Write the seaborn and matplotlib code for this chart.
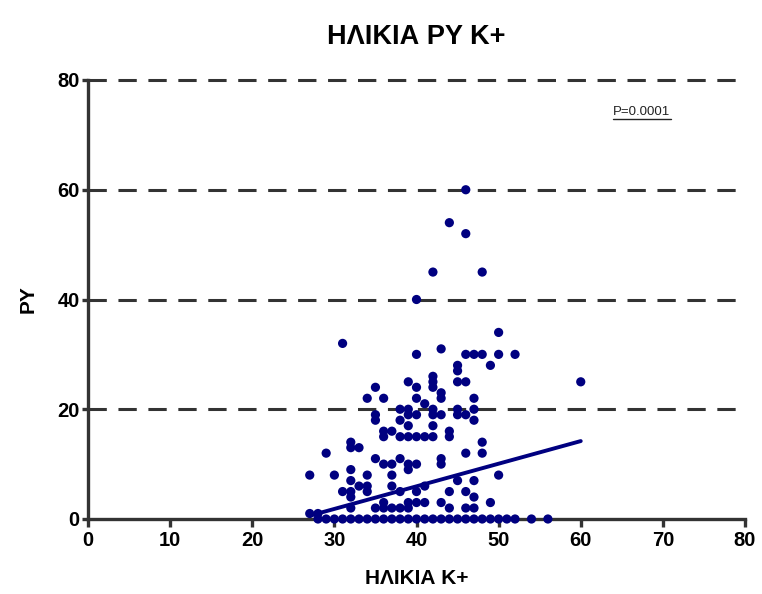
import matplotlib
matplotlib.use("Agg")
import matplotlib.pyplot as plt
import seaborn as sns
import pandas as pd

# Age (K+) and pack-years (PY) per subject
age = [46, 44, 46, 42, 48, 40, 50, 31, 43,
       40, 46, 47, 48, 50, 52,
       45, 49, 45, 45, 46, 39, 42, 42, 42, 40, 35, 60,
       43, 43, 34, 36, 40, 47, 41,
       38, 39, 42, 45, 47, 38, 39, 40, 42, 43, 45, 46, 47, 35, 35, 39, 42,
       36, 36, 37, 38, 39, 40, 41, 42, 44, 44,
       32, 32, 33, 29, 48, 48, 46,
       35, 36, 37, 38, 39, 39, 40, 43, 43, 32,
       37, 27, 30, 34, 50, 32, 33, 34, 37, 45, 47,
       31, 32, 32, 34, 40, 44, 46, 47, 38, 41,
       36, 39, 40, 41, 43, 49,
       32, 35, 36, 37, 38, 39, 44, 46, 47, 27, 28,
       28, 29, 30, 31, 32, 33, 34, 35, 36, 37, 38, 39, 40,
       41, 42, 43, 44, 45, 46, 47, 48, 49, 50, 51, 52, 54, 56]
py = [60, 54, 52, 45, 45, 40, 34, 32, 31,
      30, 30, 30, 30, 30, 30,
      28, 28, 27, 25, 25, 25, 26, 25, 24, 24, 24, 25,
      23, 22, 22, 22, 22, 22, 21,
      20, 20, 20, 20, 20, 18, 19, 19, 19, 19, 19, 19, 18, 19, 18, 17, 17,
      16, 15, 16, 15, 15, 15, 15, 15, 16, 15,
      14, 13, 13, 12, 14, 12, 12,
      11, 10, 10, 11, 10, 9, 10, 11, 10, 9,
      8, 8, 8, 8, 8, 7, 6, 6, 6, 7, 7,
      5, 5, 4, 5, 5, 5, 5, 4, 5, 6,
      3, 3, 3, 3, 3, 3,
      2, 2, 2, 2, 2, 2, 2, 2, 2, 1, 1,
      0, 0, 0, 0, 0, 0, 0, 0, 0, 0, 0, 0, 0,
      0, 0, 0, 0, 0, 0, 0, 0, 0, 0, 0, 0, 0, 0]

# Linear regression line endpoints
fit_age = [27, 60]
fit_py = [0.6, 14.2]

x_ticks = [0, 10, 20, 30, 40, 50, 60, 70, 80]
y_ticks = [0, 20, 40, 60, 80]

df = pd.DataFrame({"age": age, "py": py})
fit = pd.DataFrame({"age": fit_age, "py": fit_py})

sns.set_theme(style="white")
plt.rcParams["font.family"] = ["Liberation Sans", "DejaVu Sans"]

navy = "#000080"
dark = "#333333"

fig = plt.figure(figsize=(7.62, 5.94), dpi=100)
ax = fig.add_axes([88 / 762, 1 - 519 / 594, (745 - 88) / 762, (519 - 80) / 594])

# dashed horizontal grid
for yv in y_ticks[1:]:
    ax.axhline(yv, color=dark, lw=2.2, ls=(0, (6, 3.8)), zorder=1, clip_on=False)

sns.lineplot(data=fit, x="age", y="py", ax=ax, color=navy, lw=2.8,
             zorder=3, clip_on=False)
sns.scatterplot(data=df, x="age", y="py", ax=ax, color=navy, s=44,
                edgecolor="none", linewidth=0, zorder=4, clip_on=False)

ax.set_xlim(0, 80)
ax.set_ylim(0, 80)
ax.set_xticks(x_ticks)
ax.set_yticks(y_ticks)
ax.set_xticklabels([str(v) for v in x_ticks], fontweight="bold", fontsize=14.5)
ax.set_yticklabels([str(v) for v in y_ticks], fontweight="bold", fontsize=14.5)

for side in ["top", "right"]:
    ax.spines[side].set_visible(False)
for side in ["left", "bottom"]:
    ax.spines[side].set_color(dark)
    ax.spines[side].set_linewidth(2.4)
ax.tick_params(axis="y", direction="out", length=4.5, width=2.4,
               color=dark, labelcolor="black", pad=1.5)
ax.tick_params(axis="x", direction="out", length=6, width=2.4,
               color=dark, labelcolor="black", pad=2.5)
ax.xaxis.set_ticks_position("bottom")
ax.yaxis.set_ticks_position("left")

ax.set_xlabel("ΗΛΙΚΙΑ K+", fontsize=15, fontweight="bold", labelpad=14,
              color="black")
ax.set_ylabel("PY", fontsize=15, fontweight="bold", labelpad=14, color="black")
ax.set_title("ΗΛΙΚΙΑ PY K+", fontsize=19.5, fontweight="bold", pad=26,
             color="black")

# underlined p-value annotation
ptxt = ax.text(642 / 762, 1 - 112 / 594, "P=0.0001", transform=fig.transFigure,
               ha="center", va="center", fontsize=9.5, color="#222222")
fig.canvas.draw()
bb = ptxt.get_window_extent(renderer=fig.canvas.get_renderer())
inv = fig.transFigure.inverted()
(x0, y0), (x1, y1) = inv.transform([[bb.x0, bb.y0], [bb.x1, bb.y1]])
fig.add_artist(plt.Line2D([x0, x1], [y0 - 0.002, y0 - 0.002],
                          transform=fig.transFigure, color="#222222", lw=1.0))

fig.savefig("out.png", dpi=100)
